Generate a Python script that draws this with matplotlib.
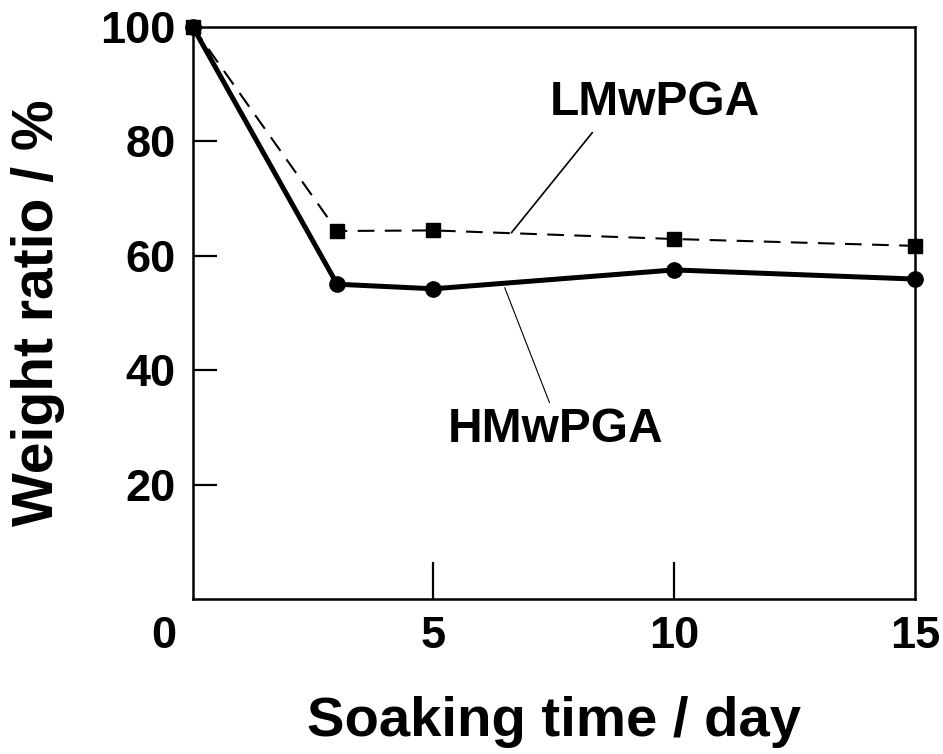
import matplotlib
matplotlib.use("Agg")
import matplotlib.pyplot as plt
import matplotlib.transforms as mtransforms

plt.rcParams['font.family'] = ['Liberation Sans', 'DejaVu Sans']
plt.rcParams['font.weight'] = 'bold'

# data
days = [0, 3, 5, 10, 15]
lmw = [100, 64.3, 64.4, 62.9, 61.7]
hmw = [100, 55.0, 54.2, 57.5, 55.9]
xticks = [0, 5, 10, 15]
yticks = [20, 40, 60, 80, 100]

fig = plt.figure(figsize=(9.43, 7.54), dpi=100)
ax = fig.add_axes([0.2043, 0.2056, 0.9703 - 0.2043, 0.9646 - 0.2056])

ax.plot(days, hmw, color='black', lw=3.6, marker='o', markersize=11,
        solid_joinstyle='round', zorder=3)
ln, = ax.plot(days, lmw, color='black', lw=1.5, marker='s', markersize=10,
              linestyle='--', zorder=4)
ln.set_dashes([8, 5])

ax.set_xlim(0, 15)
ax.set_ylim(0, 100)
ax.set_xticks(xticks)
ax.set_xticklabels([str(v) for v in xticks])
ax.set_yticks(yticks)
ax.set_yticklabels([str(v) for v in yticks])

ax.tick_params(axis='y', direction='in', length=17, width=1.6, pad=12,
               labelsize=32.5)
ax.tick_params(axis='x', direction='in', length=27, width=1.6, pad=12,
               labelsize=32.5)
for s in ax.spines.values():
    s.set_linewidth(1.8)

# hide tick marks at 0 and 15 on x and 100 on y (they coincide with spines)
for t in ax.xaxis.get_major_ticks():
    if t.get_loc() in (0, 15):
        t.tick1line.set_visible(False)
for t in ax.yaxis.get_major_ticks():
    if t.get_loc() == 100:
        t.tick1line.set_visible(False)

# shift "0" label left
lbl0 = ax.get_xticklabels()[0]
lbl0.set_transform(lbl0.get_transform() +
                   mtransforms.ScaledTranslation(-29 / 100, 0, fig.dpi_scale_trans))

ax.set_xlabel('Soaking time / day', fontsize=40.5, fontweight='bold', labelpad=28)
ax.set_ylabel('Weight ratio / %', fontsize=41, fontweight='bold', labelpad=26)

# annotations
ax.annotate('', xy=(6.62, 64.0), xytext=(8.30, 81.5),
            arrowprops=dict(arrowstyle='-', color='black', lw=1.2,
                            shrinkA=0, shrinkB=0))
ax.text(9.60, 86.8, 'LMwPGA', fontsize=34.5, fontweight='bold',
        ha='center', va='center')
ax.annotate('', xy=(6.48, 54.4), xytext=(7.41, 34.3),
            arrowprops=dict(arrowstyle='-', color='black', lw=0.8,
                            shrinkA=0, shrinkB=0))
ax.text(7.54, 29.7, 'HMwPGA', fontsize=34.5, fontweight='bold',
        ha='center', va='center')

for m in [ln] + ax.lines:
    m.set_clip_on(False)

fig.savefig('out.png', dpi=100)
